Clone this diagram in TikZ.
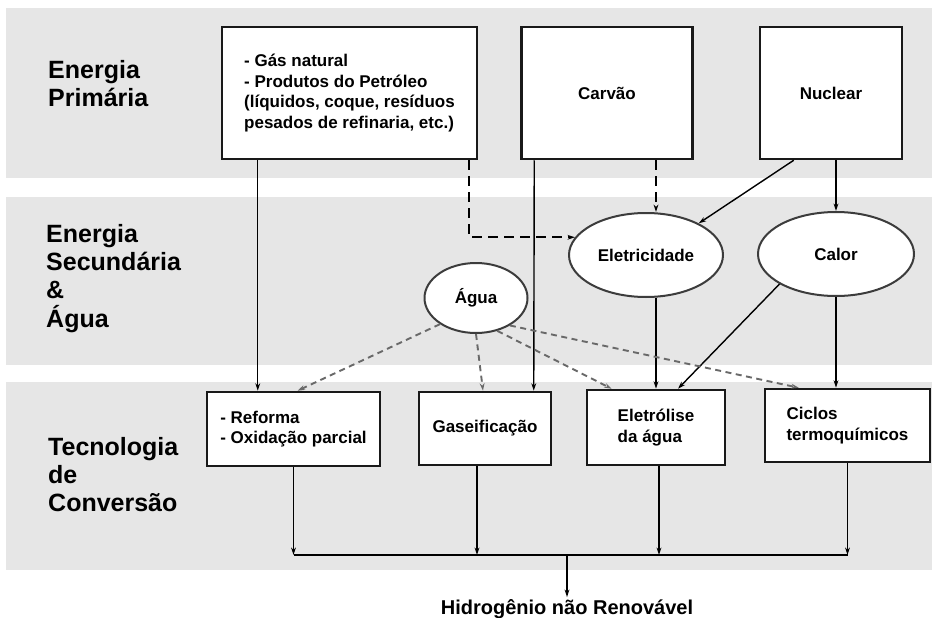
\documentclass[tikz,border=0pt]{standalone}
\usepackage{fontspec}
\setmainfont{Liberation Sans}
\usetikzlibrary{arrows.meta,shapes.geometric,calc}
\definecolor{band}{RGB}{230,230,230}
\definecolor{edge}{RGB}{25,25,25}
\definecolor{wdash}{RGB}{105,105,105}
\begin{document}
\begin{tikzpicture}[x=1pt,y=-1pt,
  boxnode/.style={draw=edge, line width=2.5pt, fill=white, inner sep=0pt, align=left, font=\bfseries\fontsize{17}{20.5}\selectfont},
  ellnode/.style={ellipse, draw=edge!85, line width=2pt, fill=white, inner sep=0pt, font=\bfseries\fontsize{17}{20.5}\selectfont},
  lefttext/.style={anchor=north west, inner sep=0pt, align=left, font=\bfseries\fontsize{25}{28.3}\selectfont},
  arr/.style={line width=1.4pt, draw=black, -{Stealth[length=7.5pt,width=4.8pt]}},
  darkdash/.style={arr, line width=1.9pt, dash pattern=on 10pt off 6pt},
  graydash/.style={line width=1.9pt, draw=wdash, dash pattern=on 6pt off 4.5pt, -{Stealth[length=7.5pt,width=4.8pt]}}]
\useasboundingbox (0,0) rectangle (932,618);
\fill[white] (0,0) rectangle (932,618);
\fill[band] (6,8) rectangle (932,178);
\fill[band] (6,197) rectangle (932,365);
\fill[band] (6,382) rectangle (932,570);

\node[lefttext] (l1) at (48,60) {Energia\\Primária};
\node[lefttext] (l2) at (46,224) {Energia\\Secundária\\\&\\Água};
\node[lefttext] (l3) at (48,437) {Tecnologia\\de\\Conversão};

\node[boxnode, minimum width=255pt, minimum height=132pt] (b1) at (349.5,93) {- Gás natural\\- Produtos do Petróleo\\(líquidos, coque, resíduos\\pesados de refinaria, etc.)};
\node[boxnode, minimum width=171pt, minimum height=132pt] (carvao) at (607,93) {Carvão};
\node[boxnode, minimum width=142pt, minimum height=132pt] (nuclear) at (831,93) {Nuclear};

\node[ellnode, minimum width=154pt, minimum height=84pt] (elet) at (646,255) {Eletricidade};
\node[ellnode, minimum width=156pt, minimum height=84pt] (calor) at (836,254) {Calor};
\node[ellnode, minimum width=103pt, minimum height=70pt] (agua) at (476,298) {Água};

\node[boxnode, minimum width=173pt, minimum height=74pt] (ref) at (293.5,429) {- Reforma\\- Oxidação parcial};
\node[boxnode, minimum width=132pt, minimum height=73pt] (gas) at (485,428.5) {Gaseificação};
\node[boxnode, minimum width=138pt, minimum height=75pt] (eletr) at (656,427.5) {Eletrólise\\da água};
\node[boxnode, minimum width=165pt, minimum height=73pt] (ciclos) at (847.5,425.5) {Ciclos\\termoquímicos};

\coordinate (bus) at (567,555);
\node[anchor=base, inner sep=0pt, outer sep=2pt, font=\bfseries\fontsize{20}{24}\selectfont] (h2) at (567,614) {Hidrogênio não Renovável};

% primary energy connectors
\draw[arr] ($(b1.south west)+(37,0)$) -- ($(ref.north west)+(52,0)$);
\draw[darkdash] ($(b1.south east)+(-9,0)$) |- (elet.166);
\draw[arr] ($(carvao.south west)+(14,0)$) -- ($(gas.north west)+(116,0)$);
\draw[darkdash] (carvao.south -| eletr.north) -- (elet.north -| eletr.north);
\draw[arr] ($(nuclear.south west)+(35,0)$) -- (elet.31);
\draw[arr] (calor.north |- nuclear.south) -- (calor.north);

% secondary energy connectors
\draw[arr] (eletr.north |- elet.south) -- (eletr.north);
\draw[arr] (calor.208) -- ($(eletr.north)+(22,0)$);
\draw[arr] (calor.south) -- (calor.south |- ciclos.north);

% water connectors
\draw[graydash] (agua.216) -- ($(ref.north)+(4,0)$);
\draw[graydash] (agua.south) -- ($(gas.north)+(-2,0)$);
\draw[graydash] (agua.303) -- ($(eletr.north west)+(26,0)$);
\draw[graydash] (agua.321) -- ($(ciclos.north west)+(35,0)$);

% outputs
\draw[arr] (ref.south) -- (ref.south |- bus);
\draw[arr] ($(gas.south)+(-8,0)$) -- ($(gas.south |- bus)+(-8,0)$);
\draw[arr] ($(eletr.south)+(3,0)$) -- ($(eletr.south |- bus)+(3,0)$);
\draw[arr] (ciclos.south) -- (ciclos.south |- bus);
\draw[line width=1.4pt] (ref.south |- bus) -- (ciclos.south |- bus);
\draw[arr] (bus) -- (h2.north);
\end{tikzpicture}
\end{document}
